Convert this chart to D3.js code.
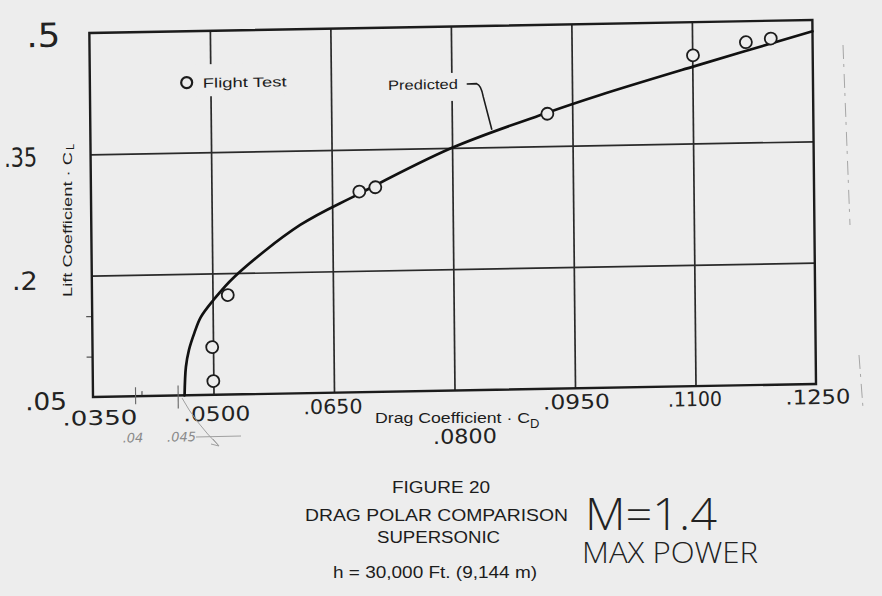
<!DOCTYPE html>
<html>
<head>
<meta charset="utf-8">
<script src="https://cdn.jsdelivr.net/npm/d3@7"></script>
<style>
  html, body { margin: 0; padding: 0; background: #ededed; }
  svg { display: block; }
</style>
</head>
<body>
<svg id="chart" width="882" height="596"></svg>
<script>
// ---------------- DATA ----------------
const xTickValues = [0.035, 0.050, 0.065, 0.080, 0.095, 0.110, 0.125];
const xTickLabels = [".0350", ".0500", ".0650", ".0800", ".0950", ".1100", ".1250"];
const yTickValues = [0.05, 0.20, 0.35, 0.50];
const yTickLabels = [".05", ".2", ".35", ".5"];
const yMinorTicks = [0.10, 0.15];
const pencilTicks = [0.0403, 0.0456];
const pencilLabels = [".04", ".045"];

// Flight test points (drag coefficient, lift coefficient)
const flightCD = [0.0500, 0.0499, 0.0519, 0.0684, 0.0704, 0.0919, 0.1101, 0.1167, 0.1198];
const flightCL = [0.067, 0.109, 0.173, 0.298, 0.303, 0.390, 0.459, 0.474, 0.478];

// Predicted drag polar
const predictedCD = [0.0464, 0.0466, 0.0470, 0.0477, 0.0485, 0.0501, 0.0527, 0.0610, 0.0681, 0.0800, 0.0918, 0.0985, 0.1101, 0.1250];
const predictedCL = [0.050, 0.085, 0.106, 0.127, 0.146, 0.167, 0.195, 0.258, 0.294, 0.350, 0.391, 0.412, 0.445, 0.486];

const legendLabel = "Flight Test";
const curveLabel = "Predicted";
const xTitle = "Drag Coefficient · C";
const xTitleSub = "D";
const yTitle = "Lift Coefficient · C";
const yTitleSub = "L";
const captionLines = ["FIGURE 20", "DRAG POLAR COMPARISON", "SUPERSONIC", "h = 30,000 Ft. (9,144 m)"];
const noteMach = "M=1.4";
const notePower = "MAX POWER";

// ---------------- LAYOUT ----------------
const bg = "#ededed";
const ink = "#1c1c1c";
const W = 723, H = 364;
const hand = "'DejaVu Sans', sans-serif";
const print = "'Liberation Sans', Arial, sans-serif";

const xLabelLayout = [
  {dx: 6.7, dy: 28, len: 75}, {dx: 3.2, dy: 26, len: 67}, {dx: -1.2, dy: 21, len: 59},
  {dx: 10, dy: 53, len: 64}, {dx: 1.3, dy: 20.6, len: 67}, {dx: -0.7, dy: 20, len: 54},
  {dx: 1.8, dy: 20, len: 65}
];
const yLabelLayout = [
  {dx: -47, dy: 12, size: 24, len: 42}, {dx: -67, dy: 13, size: 25, len: 26},
  {dx: -70, dy: 11, size: 26, len: 33}, {dx: -46, dy: 13, size: 33, len: 34}
];

const svg = d3.select("#chart");
svg.append("rect").attr("width", 882).attr("height", 596).attr("fill", bg);

const x = d3.scaleLinear().domain([xTickValues[0], xTickValues[xTickValues.length - 1]]).range([0, W]);
const y = d3.scaleLinear().domain([yTickValues[0], yTickValues[yTickValues.length - 1]]).range([H, 0]);

// slight scan skew
const g = svg.append("g")
  .attr("transform", `matrix(1,-0.018,0.01,1,${93 - 0.01 * H},${397 - H})`);

// grid lines
g.append("g")
  .attr("transform", `translate(0,${H})`)
  .call(d3.axisBottom(x).tickValues(xTickValues.slice(1, -1)).tickSize(-H).tickFormat(""))
  .call(s => s.select(".domain").remove())
  .call(s => s.selectAll("line").attr("stroke", "#2a2a2a").attr("stroke-width", 1.7));

g.append("g")
  .call(d3.axisLeft(y).tickValues(yTickValues.slice(1, -1)).tickSize(-W).tickFormat(""))
  .call(s => s.select(".domain").remove())
  .call(s => s.selectAll("line").attr("stroke", "#2a2a2a").attr("stroke-width", 1.7));

// minor ticks on the lift axis
g.append("g")
  .call(d3.axisLeft(y).tickValues(yMinorTicks).tickSize(6).tickFormat(""))
  .call(s => s.select(".domain").remove())
  .call(s => s.selectAll("line").attr("stroke", "#555").attr("stroke-width", 1.2));

// background patches behind the in-plot labels (they interrupt the grid)
const legendPt = {cd: 0.04705, cl: 0.4365};
const lx0 = x(legendPt.cd), ly0 = y(legendPt.cl);
g.append("rect").attr("x", lx0 + 8).attr("y", ly0 - 18).attr("width", 94).attr("height", 32).attr("fill", bg);

const predTextPt = {cd: 0.0721, cl: 0.4229};
const px0 = x(predTextPt.cd), py0 = y(predTextPt.cl);
g.append("rect").attr("x", px0 - 6).attr("y", py0 - 16).attr("width", 80).attr("height", 28).attr("fill", bg);

// frame
g.append("rect").attr("width", W).attr("height", H)
  .attr("fill", "none").attr("stroke", ink).attr("stroke-width", 2.4);

// predicted curve
const predicted = predictedCD.map((cd, i) => ({cd, cl: predictedCL[i]}));
g.append("path")
  .datum(predicted)
  .attr("fill", "none")
  .attr("stroke", "#111")
  .attr("stroke-width", 2.7)
  .attr("stroke-linecap", "round")
  .attr("d", d3.line().x(d => x(d.cd)).y(d => y(d.cl)).curve(d3.curveCatmullRom.alpha(0.5)));

// flight test points
const flight = flightCD.map((cd, i) => ({cd, cl: flightCL[i]}));
g.selectAll("circle.pt").data(flight).join("circle")
  .attr("class", "pt")
  .attr("cx", d => x(d.cd)).attr("cy", d => y(d.cl)).attr("r", 6)
  .attr("fill", bg).attr("stroke", ink).attr("stroke-width", 1.8);

// legend
g.append("circle").attr("cx", lx0).attr("cy", ly0).attr("r", 5.5)
  .attr("fill", bg).attr("stroke", ink).attr("stroke-width", 2.2);
g.append("text").attr("x", lx0 + 16).attr("y", ly0 + 5.5)
  .attr("font-family", print).attr("font-size", 13.5).attr("fill", ink)
  .attr("textLength", 84).attr("lengthAdjust", "spacingAndGlyphs")
  .text(legendLabel);

// predicted label + leader
g.append("text").attr("x", px0).attr("y", py0)
  .attr("font-family", print).attr("font-size", 13.5).attr("fill", ink)
  .attr("textLength", 70).attr("lengthAdjust", "spacingAndGlyphs")
  .text(curveLabel);
const leadStart = [x(0.0819), y(0.4285)];
g.append("path")
  .attr("fill", "none").attr("stroke", ink).attr("stroke-width", 1.6)
  .attr("d", `M${leadStart[0]},${leadStart[1]} l10,-0.2 q4.4,1.4 6.4,13.1 l8.3,33.3`);

// handwritten tick labels
g.selectAll("text.xl").data(xTickValues).join("text")
  .attr("class", "xl")
  .attr("x", (v, i) => x(v) + xLabelLayout[i].dx)
  .attr("y", (v, i) => H + xLabelLayout[i].dy)
  .attr("text-anchor", "middle")
  .attr("font-family", hand).attr("font-size", 20).attr("fill", "#222")
  .attr("textLength", (v, i) => xLabelLayout[i].len).attr("lengthAdjust", "spacingAndGlyphs")
  .text((v, i) => xTickLabels[i]);

g.selectAll("text.yl").data(yTickValues).join("text")
  .attr("class", "yl")
  .attr("x", (v, i) => yLabelLayout[i].dx)
  .attr("y", (v, i) => y(v) + yLabelLayout[i].dy)
  .attr("text-anchor", "middle")
  .attr("font-family", hand).attr("font-size", (v, i) => yLabelLayout[i].size).attr("fill", "#222")
  .attr("textLength", (v, i) => yLabelLayout[i].len).attr("lengthAdjust", "spacingAndGlyphs")
  .text((v, i) => yTickLabels[i]);

// pencil marks
const pencilTickLen = [[-9, 8], [-10, 13]];
g.selectAll("line.pt").data(pencilTicks).join("line")
  .attr("x1", d => x(d)).attr("x2", d => x(d))
  .attr("y1", (d, i) => H + pencilTickLen[i][0]).attr("y2", (d, i) => H + pencilTickLen[i][1])
  .attr("stroke", "#666").attr("stroke-width", 1.1);
g.append("line").attr("x1", x(0.0411)).attr("x2", x(0.0411)).attr("y1", H - 5).attr("y2", H - 1)
  .attr("stroke", "#555").attr("stroke-width", 1.2);
g.selectAll("text.pl").data(pencilTicks).join("text")
  .attr("x", (d, i) => x(d) + (i === 0 ? -3 : 3)).attr("y", H + 46)
  .attr("text-anchor", "middle")
  .attr("font-family", hand).attr("font-size", 13).attr("font-style", "italic").attr("fill", "#8a8a8a")
  .text((d, i) => pencilLabels[i]);
svg.append("path").attr("fill", "none").attr("stroke", "#a0a0a0").attr("stroke-width", 1)
  .attr("d", "M182,398 Q195,422 219,446 M219,446 L213,439 M219,446 L211,444 M196,437 L241,436");

// axis titles
svg.append("text").attr("x", 375).attr("y", 423)
  .attr("font-family", print).attr("font-size", 14).attr("fill", ink)
  .attr("textLength", 155).attr("lengthAdjust", "spacingAndGlyphs")
  .text(xTitle);
svg.append("text").attr("x", 530).attr("y", 428)
  .attr("font-family", print).attr("font-size", 13).attr("fill", ink)
  .text(xTitleSub);

const yt = svg.append("g").attr("transform", "translate(72,297) rotate(-90)");
yt.append("text").attr("x", 0).attr("y", 0)
  .attr("font-family", print).attr("font-size", 13).attr("fill", ink)
  .attr("textLength", 145).attr("lengthAdjust", "spacingAndGlyphs")
  .text(yTitle);
yt.append("text").attr("x", 147).attr("y", 2)
  .attr("font-family", print).attr("font-size", 11).attr("fill", ink)
  .text(yTitleSub);

// faint page edge on the right
svg.append("path").attr("fill", "none").attr("stroke", "#888").attr("stroke-width", 1)
  .attr("stroke-dasharray", "14 5 3 7").attr("opacity", 0.7)
  .attr("d", "M843,45 L850,225 M859,355 L863,408");

// caption
const capLayout = [
  {cx: 441, y: 493, len: 98}, {cx: 436.5, y: 521, len: 263},
  {cx: 438.5, y: 543, len: 123}, {cx: 435, y: 578, len: 204}
];
svg.selectAll("text.cap").data(captionLines).join("text")
  .attr("class", "cap")
  .attr("x", (d, i) => capLayout[i].cx).attr("y", (d, i) => capLayout[i].y)
  .attr("text-anchor", "middle")
  .attr("font-family", print).attr("font-size", 16).attr("fill", ink)
  .attr("textLength", (d, i) => capLayout[i].len).attr("lengthAdjust", "spacingAndGlyphs")
  .text(d => d);

// handwritten notes
svg.append("text").attr("x", 585).attr("y", 530)
  .attr("font-family", "'Open Sans', sans-serif").attr("font-weight", 300)
  .attr("font-size", 44).attr("fill", "#222")
  .attr("textLength", 132).attr("lengthAdjust", "spacingAndGlyphs")
  .text(noteMach);
svg.append("text").attr("x", 582).attr("y", 563)
  .attr("font-family", "'Open Sans', sans-serif").attr("font-weight", 300)
  .attr("font-size", 30).attr("fill", "#222")
  .attr("textLength", 176).attr("lengthAdjust", "spacingAndGlyphs")
  .text(notePower);
</script>
</body>
</html>
